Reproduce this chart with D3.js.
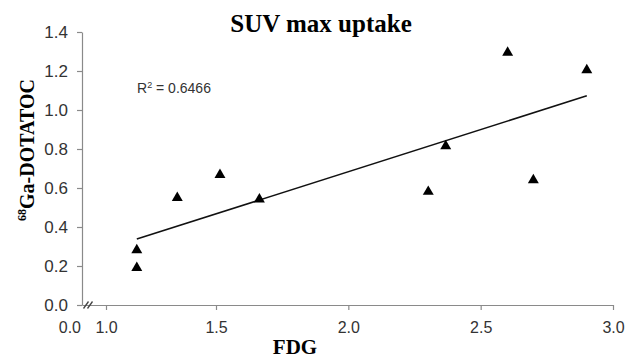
<!DOCTYPE html>
<html>
<head>
<meta charset="utf-8">
<script src="https://cdn.jsdelivr.net/npm/d3@7/dist/d3.min.js"></script>
<style>
    body { margin: 0; background: #fff; }
</style>
</head>
<body>
<div id="viz"></div>
<script>

// values (FDG vs 68Ga-DOTATOC, SUV max)
var fdg = [1.14, 1.14, 1.324, 1.515, 1.664, 2.302, 2.368, 2.602, 2.699, 2.901];
var ga  = [0.282, 0.19, 0.55, 0.667, 0.542, 0.581, 0.815, 1.294, 0.641, 1.205];

// trend line as drawn (end points)
var fitX = [1.14, 2.901];
var fitY = [0.338, 1.073];

var xTicks = [1.0, 1.5, 2.0, 2.5, 3.0];
var yTicks = [0, 0.2, 0.4, 0.6, 0.8, 1.0, 1.2, 1.4];
var xBreakLabel = "0.0";
var r2 = "0.6466";

var W = 628, H = 359;
var sans = "'Liberation Sans', Arial, sans-serif";
var serif = "'Liberation Serif', 'Times New Roman', serif";
var axisGrey = "#8a8a8a";
var textGrey = "#333";

var svg = d3.select("#viz").append("svg")
    .attr("width", W)
    .attr("height", H);

// broken x axis: 0 .. 1.0 squeezed, then 1.0-1.5 and 1.5-3.0
var x = d3.scaleLinear()
    .domain([0, 1.0, 1.5, 3.0])
    .range([82, 106, 216, 613]);

var y = d3.scaleLinear()
    .domain([0, 1.4])
    .range([305, 32]);

// y axis
var gy = svg.append("g")
    .attr("transform", "translate(" + x(0) + ",0)")
    .call(d3.axisLeft(y).tickValues(yTicks).tickFormat(d3.format(".1f"))
        .tickSize(5).tickSizeOuter(0).tickPadding(9));

// x axis
var gx = svg.append("g")
    .attr("transform", "translate(0," + y(0) + ")")
    .call(d3.axisBottom(x).tickValues(xTicks).tickFormat(d3.format(".1f"))
        .tickSize(5).tickSizeOuter(0).tickPadding(12));

[gx, gy].forEach(function (g) {
    g.select(".domain").attr("stroke", axisGrey).attr("stroke-width", 1.2);
    g.selectAll(".tick line").attr("stroke", axisGrey).attr("stroke-width", 1.2);
    g.selectAll(".tick text")
        .attr("fill", textGrey)
        .style("font-family", sans)
        .style("font-size", "16px");
});
gy.selectAll(".tick text").style("font-size", "17px");

// the extra "0.0" under the origin
svg.append("text")
    .attr("x", x(0) - 1)
    .attr("y", y(0) + 17)
    .attr("dy", "0.71em")
    .attr("text-anchor", "end")
    .attr("fill", textGrey)
    .style("font-family", sans)
    .style("font-size", "16px")
    .text(xBreakLabel);

// axis break marks  //
[4, 8].forEach(function (off) {
    var bx = x(0) + off;
    svg.append("line")
        .attr("x1", bx - 2.5).attr("y1", y(0) + 3.5)
        .attr("x2", bx + 2.5).attr("y2", y(0) - 3.5)
        .attr("stroke", "#444")
        .attr("stroke-width", 1.3);
});

// trend line
var line = d3.line()
    .x(function (d) { return x(d[0]); })
    .y(function (d) { return y(d[1]); });

svg.append("path")
    .datum(d3.zip(fitX, fitY))
    .attr("d", line)
    .attr("fill", "none")
    .attr("stroke", "#111")
    .attr("stroke-width", 1.6);

// points
svg.selectAll(".pt")
    .data(d3.zip(fdg, ga))
    .enter().append("path")
    .attr("class", "pt")
    .attr("transform", function (d) { return "translate(" + x(d[0]) + "," + y(d[1]) + ")"; })
    .attr("d", d3.symbol().type(d3.symbolTriangle).size(52))
    .attr("fill", "#000");

// R^2 label
var rt = svg.append("text")
    .attr("x", 137)
    .attr("y", 93)
    .attr("fill", textGrey)
    .style("font-family", sans)
    .style("font-size", "14px");
rt.append("tspan").text("R");
rt.append("tspan").attr("dy", -5).style("font-size", "9px").text("2");
rt.append("tspan").attr("dy", 5).text(" = " + r2);

// title
svg.append("text")
    .attr("x", 321)
    .attr("y", 32)
    .attr("text-anchor", "middle")
    .style("font-family", serif)
    .style("font-weight", "bold")
    .style("font-size", "25px")
    .text("SUV max uptake");

// x label
svg.append("text")
    .attr("x", 295)
    .attr("y", 354)
    .attr("text-anchor", "middle")
    .style("font-family", serif)
    .style("font-weight", "bold")
    .style("font-size", "21px")
    .text("FDG");

// y label
var yl = svg.append("text")
    .attr("transform", "translate(34,150) rotate(-90)")
    .attr("text-anchor", "middle")
    .style("font-family", serif)
    .style("font-weight", "bold")
    .style("font-size", "20px");
yl.append("tspan").attr("dy", -8).style("font-size", "12px").text("68");
yl.append("tspan").attr("dy", 8).text("Ga-DOTATOC");

</script>
</body>
</html>
